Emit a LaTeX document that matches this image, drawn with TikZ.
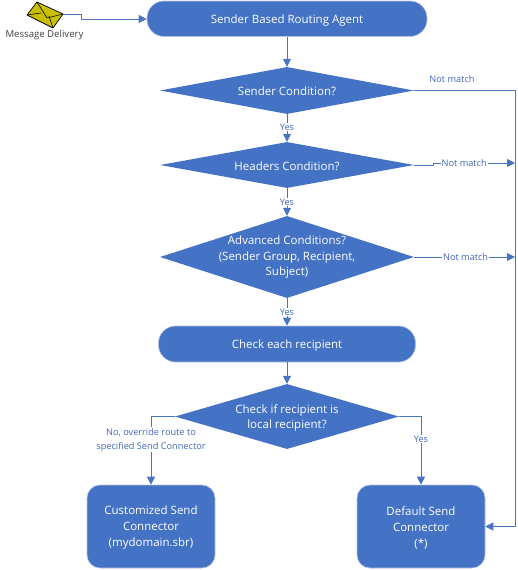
\documentclass[tikz,border=0pt]{standalone}
\usepackage{fontspec}
\setmainfont{Open Sans}
\usetikzlibrary{shapes.geometric,arrows.meta}
\definecolor{fillblue}{HTML}{4472C4}
\definecolor{edgeblue}{HTML}{B4C4E4}
\definecolor{lineblue}{HTML}{4A74C0}
\definecolor{labelblue}{HTML}{4468B8}
\definecolor{envyellow}{HTML}{C8C000}
\tikzset{
  x=1pt,y=-1pt,
  stadium/.style={draw=edgeblue,line width=.6pt,fill=fillblue,text=white,rounded corners=17pt,inner sep=0pt,font=\fontsize{11.5}{15}\selectfont},
  roundbox/.style={draw=edgeblue,line width=.6pt,fill=fillblue,text=white,rounded corners=13pt,inner sep=0pt,align=center,minimum width=128pt,minimum height=83pt,font=\fontsize{11.5}{16}\selectfont},
  dia/.style={diamond,fill=fillblue,draw=none,inner sep=0pt},
  diatext/.style={text=white,align=center,inner sep=0pt,font=\fontsize{11.5}{15.5}\selectfont},
  conn/.style={draw=lineblue,line width=.8pt,-{Triangle[length=8pt,width=8pt]}},
  connplain/.style={draw=lineblue,line width=.8pt},
  lab/.style={fill=white,text=labelblue,inner sep=1pt,align=center,font=\fontsize{9.2}{14}\selectfont},
  envlab/.style={text=black!75,inner sep=0pt,font=\fontsize{9.6}{11}\selectfont}
}
\begin{document}
\begin{tikzpicture}
\useasboundingbox (0,0) rectangle (517,570);
% envelope
\coordinate (ea) at (37,2);
\coordinate (eb) at (63,14);
\coordinate (ec) at (53,28);
\coordinate (ed) at (27,15);
\filldraw[fill=envyellow,draw=black,line width=.7pt,line join=round] (ea)--(eb)--(ec)--(ed)--cycle;
\draw[black,line width=.6pt] (ea)--(47,18)--(eb);
\draw[black,line width=.6pt] (ed)--(41,13);
\draw[black,line width=.6pt] (ec)--(49,16);
\node[envlab] (msg) at (44.5,35.5) {Message Delivery};
% nodes
\node[stadium,minimum width=280pt,minimum height=35.5pt] (agent) at (287,18.75) {};
\node[stadium,fill=none,draw=none] (agenttext) at (287,20.5) {Sender Based Routing Agent};
\node[dia,minimum width=254pt,minimum height=47pt] (d1) at (287,90.5) {};
\node[diatext] (t1) at (287,91.5) {Sender Condition?};
\node[dia,minimum width=254pt,minimum height=46pt] (d2) at (287,165) {};
\node[diatext] (t2) at (287,166) {Headers Condition?};
\node[dia,minimum width=254pt,minimum height=82pt] (d3) at (287,257) {};
\node[diatext] (t3) at (287,257.5) {Advanced Conditions?\\(Sender Group, Recipient,\\Subject)};
\node[stadium,minimum width=257pt,minimum height=36pt] (check) at (287,344) {};
\node[stadium,fill=none,draw=none] (checktext) at (287,346) {Check each recipient};
\node[dia,minimum width=224pt,minimum height=65pt] (d4) at (287,416.5) {};
\node[diatext,font=\fontsize{11.5}{15}\selectfont] (t4) at (287,417.5) {Check if recipient is\\local recipient?};
\node[roundbox] (custom) at (151,526.5) {};
\node[roundbox,fill=none,draw=none] (customtext) at (151,528) {Customized Send\\Connector\\(mydomain.sbr)};
\node[roundbox] (default) at (421,526.5) {};
\node[roundbox,fill=none,draw=none] (defaulttext) at (421,528) {Default Send\\Connector\\(*)};
% rail coordinates
\coordinate (railtop) at (515.5,90.5);
\coordinate (railbot) at (515.5,526.5);
\coordinate (e1) at (81,14);
\coordinate (e2) at (81,19);
\coordinate (s2) at (433,165);
\coordinate (s2b) at (433,163);
\coordinate (r2) at (515,163);
\coordinate (r3) at (515,257);
\coordinate (ll) at (151,416.5);
\coordinate (rr) at (421,416.5);
% connectors
\draw[conn] (eb) -- (e1) -- (e2) -- (agent.west |- e2);
\draw[conn] (agent.south) -- (d1.north);
\draw[conn] (d1.south) -- node[lab,pos=.46] (y1) {Yes} (d2.north);
\draw[conn] (d2.south) -- node[lab,pos=.5] (y2) {Yes} (d3.north);
\draw[conn] (d3.south) -- node[lab,pos=.5] (y3) {Yes} (check.north);
\draw[conn] (check.south) -- (d4.north);
\draw[connplain] (d1.east) -- (railtop) -- (railbot);
\node[lab,fill=none] (nm1) at (452,79) {Not match};
\draw[conn] (railbot) -- (default.east);
\draw[conn] (d2.east) -- (s2) -- (s2b) -- node[lab,pos=.38] (nm2) {Not match} (r2);
\draw[conn] (d3.east) -- node[lab,pos=.51] (nm3) {Not match} (r3);
\draw[conn] (d4.west) -- (ll) -- node[lab,pos=.34] (no) {No, override route to\\specified Send Connector} (custom.north);
\draw[conn] (d4.east) -- (rr) -- node[lab,pos=.33] (yes4) {Yes} (default.north);
\end{tikzpicture}
\end{document}
